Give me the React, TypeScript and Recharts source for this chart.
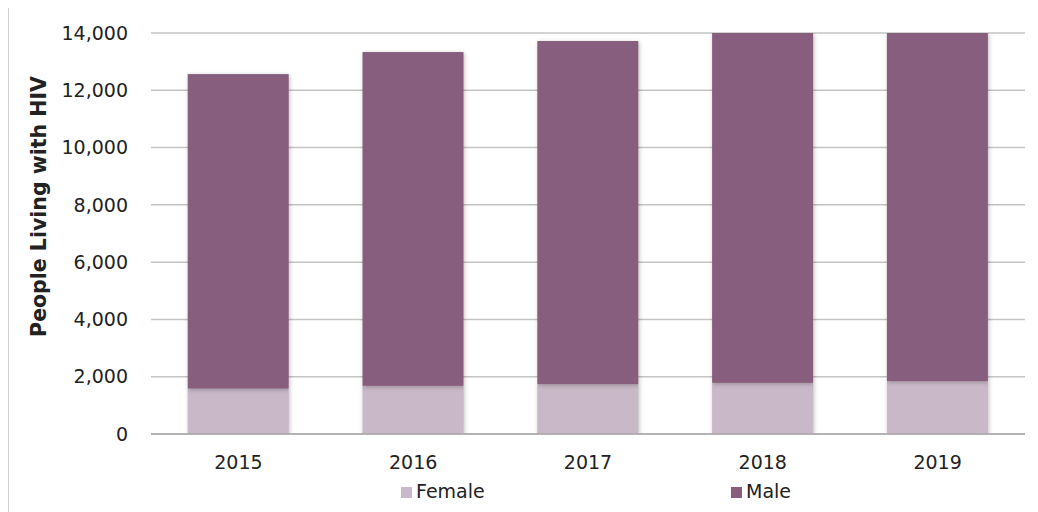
import { BarChart, Bar, XAxis, YAxis, CartesianGrid, Legend } from "recharts";

// Values
const years = ["2015", "2016", "2017", "2018", "2019"];
const female = [1585, 1680, 1740, 1785, 1845];
const male = [10980, 11655, 11980, 12615, 12855];
const yTicks = [0, 2000, 4000, 6000, 8000, 10000, 12000, 14000];

const FEMALE_COLOR = "#c9b8c8";
const MALE_COLOR = "#875e7d";
const FONT = "'DejaVu Sans', sans-serif";

const data = years.map((year, i) => ({ year, Female: female[i], Male: male[i] }));

const ShadowBar = (props: any) => {
  const { x, y, width, height, fill } = props;
  if (!height || height <= 0) return null;
  return (
    <rect
      x={x}
      y={y}
      width={width}
      height={height}
      fill={fill}
      style={{ filter: "drop-shadow(1px 1px 2px rgba(0,0,0,0.25))" }}
    />
  );
};

const renderLegend = () => (
  <div style={{ position: "relative", height: 24, fontFamily: FONT, fontSize: 19, color: "#222" }}>
    <div style={{ position: "absolute", left: 392, top: 0, display: "flex", alignItems: "center" }}>
      <span style={{ width: 11, height: 11, background: FEMALE_COLOR, marginRight: 4, marginTop: 3 }} />
      <span>Female</span>
    </div>
    <div style={{ position: "absolute", left: 722, top: 0, display: "flex", alignItems: "center" }}>
      <span style={{ width: 11, height: 11, background: MALE_COLOR, marginRight: 4, marginTop: 3 }} />
      <span>Male</span>
    </div>
  </div>
);

const YLabel = (props: any) => {
  const { viewBox } = props;
  const cx = viewBox.x + 30;
  const cy = viewBox.y + viewBox.height / 2 - 27;
  return (
    <text
      x={cx}
      y={cy}
      transform={`rotate(-90, ${cx}, ${cy})`}
      textAnchor="middle"
      dominantBaseline="central"
      fontFamily={FONT}
      fontSize={20.5}
      fontWeight="bold"
      fill="#222"
    >
      People Living with HIV
    </text>
  );
};

const App = () => {
  return (
    <div
      style={{
        position: "relative",
        width: 1030,
        height: 505,
        marginTop: -1,
        borderLeft: "1px solid #d0d0d0",
        borderTop: "1px solid #d0d0d0",
        boxSizing: "border-box",
        background: "#fff",
      }}
    >
      <BarChart
        width={1029}
        height={504}
        data={data}
        barCategoryGap="21%"
        margin={{ top: 25, right: 13, bottom: 8, left: 0 }}
      >
        <CartesianGrid vertical={false} stroke="#c4c4c4" strokeWidth={1.5} />
        <XAxis
          dataKey="year"
          tickLine={false}
          axisLine={{ stroke: "#a8a8a8", strokeWidth: 1.5 }}
          tick={{ fill: "#222", fontSize: 19, fontFamily: FONT }}
          tickMargin={16}
          height={46}
        />
        <YAxis
          domain={[0, 14000]}
          ticks={yTicks}
          allowDataOverflow
          width={142}
          axisLine={false}
          tickLine={false}
          tickSize={0}
          tickMargin={23}
          tickFormatter={(v: number) => v.toLocaleString("en-US")}
          tick={{ fill: "#222", fontSize: 19, fontFamily: FONT }}
          label={<YLabel />}
        />
        <Legend verticalAlign="bottom" content={renderLegend} wrapperStyle={{ left: 0, width: 1029, bottom: 8 }} />
        <Bar dataKey="Female" stackId="a" fill={FEMALE_COLOR} shape={ShadowBar} isAnimationActive={false} />
        <Bar dataKey="Male" stackId="a" fill={MALE_COLOR} shape={ShadowBar} isAnimationActive={false} />
      </BarChart>
    </div>
  );
};

export default App;
